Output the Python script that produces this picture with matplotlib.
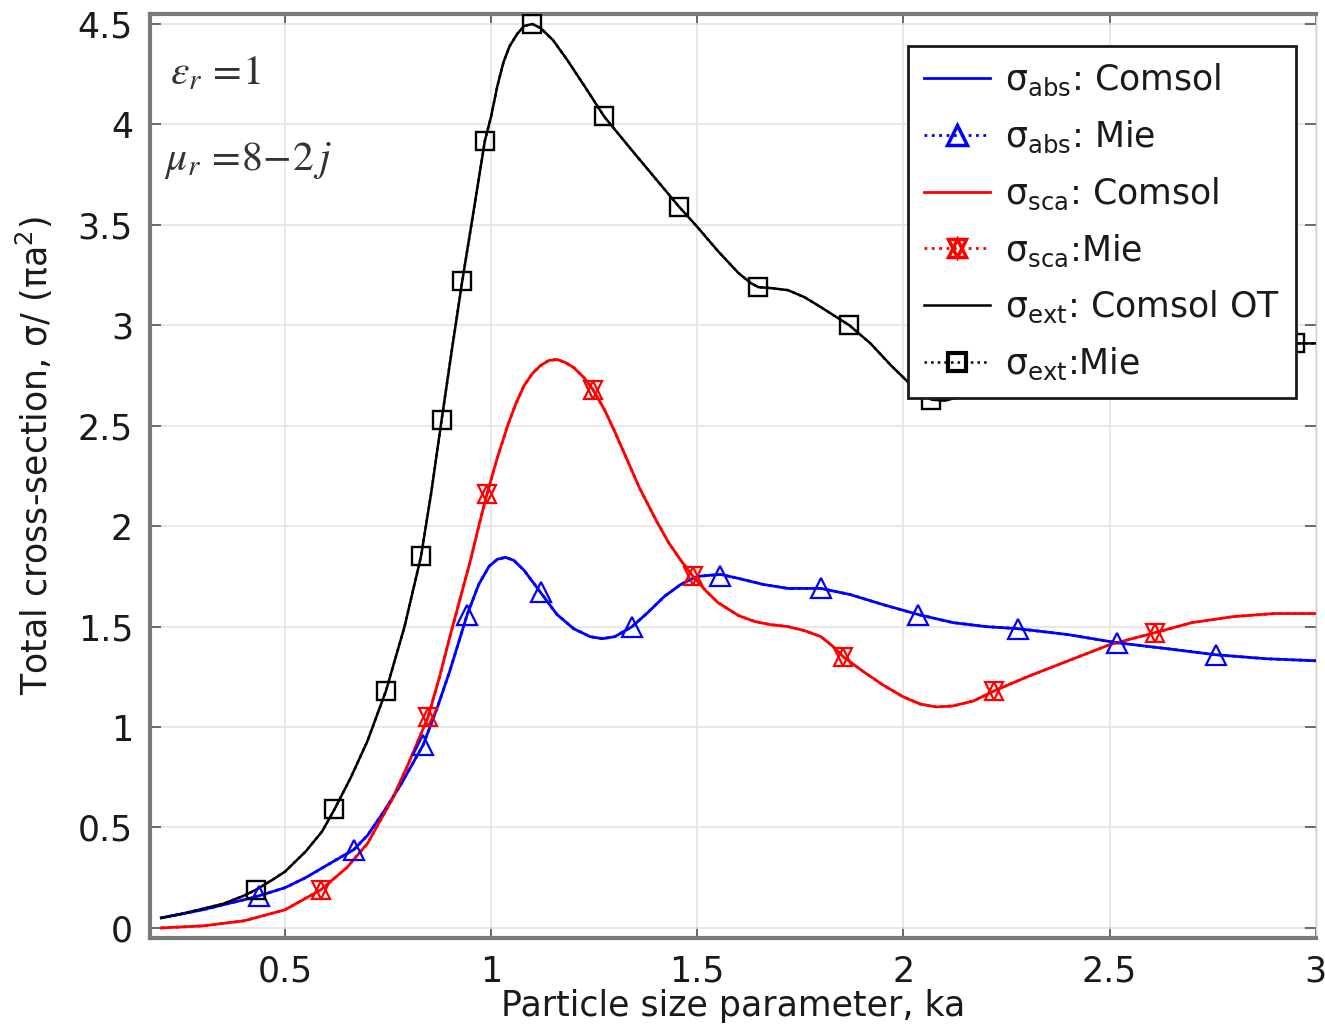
import numpy as np
import matplotlib
matplotlib.use('Agg')
from matplotlib import pyplot as plt
from matplotlib.lines import Line2D
from matplotlib.legend_handler import HandlerTuple

# ---- data ----
# sigma_ext (Comsol OT)
ext_x = [0.2, 0.25, 0.3, 0.35, 0.4, 0.43, 0.47, 0.5, 0.55, 0.59, 0.62, 0.66, 0.7, 0.745,
         0.79, 0.83, 0.855, 0.88, 0.905, 0.93, 0.96, 0.985, 1.0, 1.015, 1.03, 1.045, 1.063,
         1.08, 1.1, 1.12, 1.15, 1.185, 1.23, 1.274, 1.35, 1.456, 1.5, 1.55, 1.6, 1.63,
         1.648, 1.68, 1.72, 1.76, 1.8, 1.869, 1.92, 1.97, 2.02, 2.068, 2.1, 2.15, 2.25,
         2.35, 2.5, 2.7, 2.85, 3.0]
ext_y = [0.05, 0.07, 0.095, 0.12, 0.16, 0.19, 0.24, 0.28, 0.38, 0.48, 0.59, 0.75, 0.93, 1.18,
         1.50, 1.85, 2.17, 2.53, 2.88, 3.22, 3.60, 3.92, 4.04, 4.19, 4.31, 4.39, 4.45,
         4.49, 4.50, 4.48, 4.42, 4.32, 4.18, 4.04, 3.85, 3.59, 3.49, 3.37, 3.26, 3.21,
         3.19, 3.185, 3.175, 3.14, 3.09, 3.00, 2.91, 2.80, 2.70, 2.63, 2.625, 2.65, 2.71,
         2.77, 2.84, 2.89, 2.91, 2.91]
ext_mie_x = [0.43, 0.62, 0.745, 0.83, 0.88, 0.93, 0.985, 1.10, 1.274, 1.456, 1.648,
             1.869, 2.068, 2.29, 2.51, 2.73, 2.95]
ext_mie_y = [0.19, 0.59, 1.18, 1.85, 2.53, 3.22, 3.92, 4.50, 4.04, 3.59, 3.19,
             3.00, 2.63, 2.73, 2.84, 2.89, 2.91]

# sigma_abs
abs_x = [0.2, 0.3, 0.4, 0.437, 0.5, 0.55, 0.6, 0.667, 0.7, 0.74, 0.78, 0.835, 0.87, 0.9,
         0.942, 0.97, 0.995, 1.015, 1.035, 1.055, 1.08, 1.12, 1.16, 1.2, 1.24, 1.27, 1.30,
         1.342, 1.38, 1.42, 1.46, 1.5, 1.556, 1.6, 1.66, 1.72, 1.8, 1.87, 1.95, 2.036,
         2.12, 2.2, 2.277, 2.4, 2.517, 2.64, 2.757, 2.88, 3.0]
abs_y = [0.05, 0.09, 0.14, 0.16, 0.20, 0.25, 0.31, 0.39, 0.46, 0.58, 0.71, 0.91, 1.10, 1.28,
         1.56, 1.71, 1.80, 1.835, 1.845, 1.83, 1.78, 1.67, 1.56, 1.49, 1.45, 1.44, 1.45,
         1.50, 1.57, 1.65, 1.71, 1.75, 1.76, 1.74, 1.71, 1.69, 1.69, 1.66, 1.61, 1.56,
         1.52, 1.50, 1.49, 1.46, 1.42, 1.39, 1.36, 1.34, 1.33]
abs_mie_x = [0.437, 0.667, 0.835, 0.942, 1.12, 1.342, 1.556, 1.80, 2.036, 2.277, 2.517, 2.757]
abs_mie_y = [0.16, 0.39, 0.91, 1.56, 1.67, 1.50, 1.75, 1.69, 1.56, 1.49, 1.42, 1.36]

# sigma_sca
sca_x = [0.2, 0.3, 0.4, 0.5, 0.587, 0.65, 0.7, 0.76, 0.8, 0.847, 0.875, 0.9, 0.925, 0.95,
         0.97, 0.99, 1.015, 1.04, 1.06, 1.08, 1.1, 1.12, 1.14, 1.16, 1.18, 1.2, 1.225,
         1.247, 1.275, 1.3, 1.33, 1.36, 1.4, 1.43, 1.46, 1.49, 1.52, 1.55, 1.6, 1.64,
         1.677, 1.72, 1.76, 1.8, 1.83, 1.854, 1.9, 1.95, 2.0, 2.04, 2.08, 2.12, 2.17,
         2.22, 2.3, 2.4, 2.5, 2.61, 2.7, 2.8, 2.9, 3.0]
sca_y = [0.0, 0.01, 0.035, 0.09, 0.19, 0.30, 0.42, 0.64, 0.82, 1.05, 1.25, 1.45, 1.64, 1.83,
         2.00, 2.16, 2.34, 2.50, 2.61, 2.70, 2.76, 2.80, 2.825, 2.83, 2.815, 2.79, 2.74,
         2.68, 2.58, 2.47, 2.33, 2.19, 2.03, 1.92, 1.83, 1.75, 1.68, 1.62, 1.555, 1.525,
         1.51, 1.50, 1.48, 1.45, 1.40, 1.35, 1.28, 1.21, 1.15, 1.115, 1.10, 1.105, 1.13,
         1.18, 1.25, 1.33, 1.41, 1.47, 1.52, 1.55, 1.565, 1.565]
sca_mie_x = [0.587, 0.847, 0.99, 1.247, 1.49, 1.854, 2.22, 2.61]
sca_mie_y = [0.19, 1.05, 2.16, 2.68, 1.75, 1.35, 1.18, 1.47]

xticks = [0.5, 1, 1.5, 2, 2.5, 3]
xtick_labels = ['0.5', '1', '1.5', '2', '2.5', '3']
yticks = [0, 0.5, 1, 1.5, 2, 2.5, 3, 3.5, 4, 4.5]
ytick_labels = ['0', '0.5', '1', '1.5', '2', '2.5', '3', '3.5', '4', '4.5']

blue = '#0000ff'
red = '#ff0000'
fs = 25

fig = plt.figure(figsize=(13.25, 10.27), dpi=100)
ax = fig.add_axes([0.113, 0.0867, 0.88, 0.8997])

# comsol lines
ax.plot(abs_x, abs_y, '-', color=blue, lw=2, zorder=3)
ax.plot(sca_x, sca_y, '-', color=red, lw=2, zorder=3)
ax.plot(ext_x, ext_y, '-', color='black', lw=1.8, zorder=3)
# mie dotted lines + markers
ax.plot(abs_x, abs_y, ':', color=blue, lw=2, zorder=4)
ax.plot(sca_x, sca_y, ':', color=red, lw=2, zorder=4)
ax.plot(ext_x, ext_y, ':', color='black', lw=1.8, zorder=4)
mk = dict(linestyle='none', markerfacecolor='none', zorder=5)
ax.plot(abs_mie_x, abs_mie_y, '^', color=blue, ms=14, mew=1.6, **mk)
ax.plot(sca_mie_x, sca_mie_y, '^', color=red, ms=13, mew=1.6, **mk)
ax.plot(sca_mie_x, sca_mie_y, 'v', color=red, ms=13, mew=1.6, **mk)
ax.plot(ext_mie_x, ext_mie_y, 's', color='black', ms=13, mew=1.7, **mk)

ax.set_xlim(0.172, 3.0)
ax.set_ylim(-0.05, 4.55)
ax.set_xticks(xticks)
ax.set_xticklabels(xtick_labels)
ax.set_yticks(yticks)
ax.set_yticklabels(ytick_labels)
ax.grid(True, color='#e4e4e4', lw=1.2, zorder=0)
ax.tick_params(direction='in', length=8, width=1.2, color='#555555',
               labelsize=fs, labelcolor='#1a1a1a', top=True, right=True)
ax.tick_params(axis='x', pad=12)
ax.tick_params(axis='y', pad=12)
for side in ['left', 'bottom', 'top']:
    ax.spines[side].set_color('#7a7a7a')
    ax.spines[side].set_linewidth(3)
ax.spines['right'].set_color('#d0d0d0')
ax.spines['right'].set_linewidth(1)

ax.set_xlabel('Particle size parameter, ka', fontsize=fs, color='#1a1a1a', labelpad=0)
ax.set_ylabel('Total cross-section, σ/ (πa$^2$)', fontsize=fs, color='#1a1a1a')
ax.yaxis.set_label_coords(-0.081, 0.522)

ax.text(0.017, 0.937, r'$\varepsilon_r\,=\!1$', transform=ax.transAxes, fontsize=30,
        math_fontfamily='stix', va='center', color='#333333')
ax.text(0.012, 0.842, r'$\mu_r\,=\!8\!-\!2\,j$', transform=ax.transAxes, fontsize=30,
        math_fontfamily='stix', va='center', color='#333333')

# legend
h1 = Line2D([], [], color=blue, lw=2)
h2 = Line2D([], [], color=blue, lw=2, ls=':', marker='^', ms=14, mfc='none', mew=2.5)
h3 = Line2D([], [], color=red, lw=2)
h4a = Line2D([], [], color=red, lw=2, ls=':', marker='^', ms=13, mfc='none', mew=2.5)
h4b = Line2D([], [], color=red, lw=0, marker='v', ms=13, mfc='none', mew=2.5)
h5 = Line2D([], [], color='black', lw=1.8)
h6 = Line2D([], [], color='black', lw=1.8, ls=':', marker='s', ms=13, mfc='none', mew=3)
labels = ['σ$_{\\mathrm{abs}}$: Comsol', 'σ$_{\\mathrm{abs}}$: Mie',
          'σ$_{\\mathrm{sca}}$: Comsol', 'σ$_{\\mathrm{sca}}$:Mie',
          'σ$_{\\mathrm{ext}}$: Comsol OT', 'σ$_{\\mathrm{ext}}$:Mie']
leg = ax.legend([h1, h2, h3, (h4a, h4b), h5, h6], labels,
                handler_map={tuple: HandlerTuple(ndivide=1)},
                loc='upper right', bbox_to_anchor=(0.983, 0.965), fontsize=fs,
                handlelength=1.9, handletextpad=0.45, labelspacing=0.59,
                borderpad=0.45, borderaxespad=0, fancybox=False, framealpha=1,
                edgecolor='#1a1a1a')
leg.get_frame().set_linewidth(2)
leg.set_zorder(10)
for t in leg.get_texts():
    t.set_color('#1a1a1a')

plt.savefig('out.png', dpi=100)
